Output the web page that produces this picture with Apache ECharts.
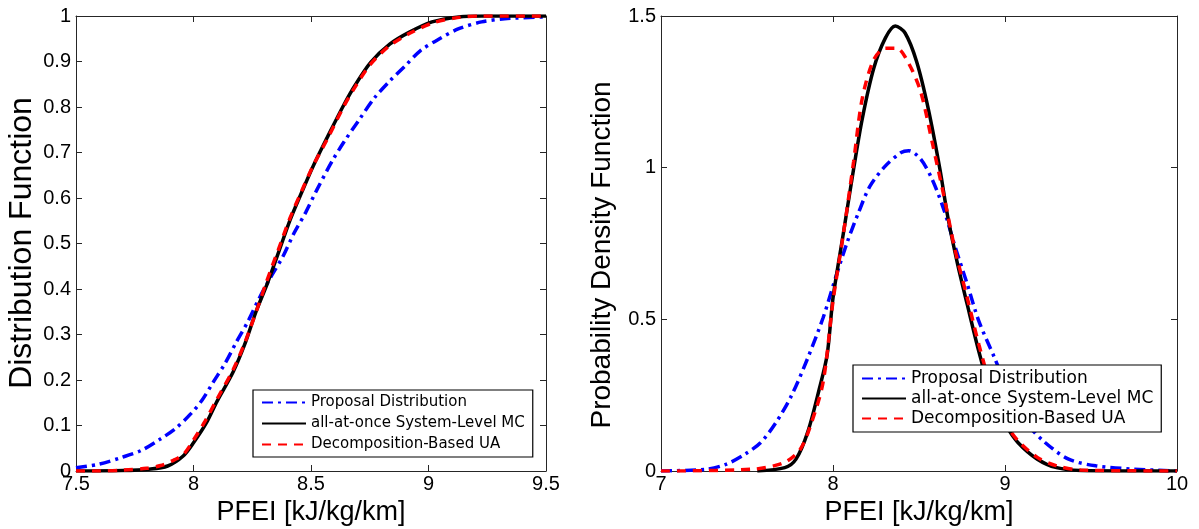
<!DOCTYPE html>
<html>
<head>
<meta charset="utf-8">
<script src="https://cdn.jsdelivr.net/npm/echarts@6/dist/echarts.min.js"></script>
<style>html,body{margin:0;padding:0;background:#fff;}#c{width:1199px;height:529px;}</style>
</head>
<body>
<div id="c"></div>
<script>
// ---- Left panel: cumulative distribution functions ----
const cdfPropX = [7.5, 7.598, 7.695, 7.777, 7.858, 7.923, 7.989, 8.037, 8.086, 8.135, 8.184, 8.233, 8.282, 8.33, 8.38, 8.428, 8.477, 8.526, 8.591, 8.64, 8.705, 8.77, 8.835, 8.9, 8.966, 9.047, 9.129, 9.226, 9.324, 9.5];
const cdfPropY = [0.007, 0.015, 0.03, 0.045, 0.07, 0.093, 0.126, 0.156, 0.197, 0.237, 0.285, 0.33, 0.382, 0.427, 0.471, 0.523, 0.568, 0.619, 0.682, 0.723, 0.772, 0.82, 0.857, 0.89, 0.924, 0.95, 0.972, 0.987, 0.994, 0.998];
const cdfMcX = [7.5, 7.7, 7.81, 7.89, 7.956, 8.0, 8.054, 8.10, 8.168, 8.217, 8.266, 8.314, 8.363, 8.412, 8.46, 8.51, 8.567, 8.64, 8.689, 8.754, 8.835, 8.917, 9.015, 9.129, 9.226, 9.5];
const cdfMcY = [0, 0.001, 0.004, 0.011, 0.033, 0.062, 0.105, 0.153, 0.217, 0.277, 0.35, 0.412, 0.482, 0.553, 0.612, 0.671, 0.731, 0.805, 0.849, 0.898, 0.938, 0.964, 0.987, 0.998, 1.0, 1.0];
const cdfUaX = [7.5, 7.6, 7.7, 7.8, 7.86, 7.92, 7.96, 8.0, 8.05, 8.1, 8.17, 8.22, 8.27, 8.31, 8.36, 8.41, 8.46, 8.51, 8.57, 8.64, 8.69, 8.75, 8.83, 8.92, 9.02, 9.13, 9.23, 9.5];
const cdfUaY = [0, 0, 0.002, 0.006, 0.012, 0.025, 0.038, 0.068, 0.11, 0.158, 0.224, 0.284, 0.355, 0.415, 0.485, 0.555, 0.615, 0.672, 0.73, 0.802, 0.846, 0.892, 0.933, 0.962, 0.985, 0.997, 1.0, 1.0];

// ---- Right panel: probability density functions ----
const pdfPropX = [7, 7.265, 7.378, 7.49, 7.58, 7.67, 7.76, 7.853, 7.943, 8.01, 8.08, 8.147, 8.215, 8.305, 8.396, 8.44, 8.51, 8.577, 8.645, 8.71, 8.78, 8.848, 8.94, 9.03, 9.12, 9.233, 9.37, 9.527, 9.75, 10];
const pdfPropY = [0, 0.006, 0.022, 0.056, 0.094, 0.161, 0.25, 0.372, 0.506, 0.628, 0.75, 0.85, 0.939, 1.006, 1.05, 1.056, 1.028, 0.961, 0.861, 0.739, 0.617, 0.494, 0.372, 0.25, 0.161, 0.094, 0.039, 0.017, 0.006, 0];
const pdfMcX = [7.56, 7.72, 7.785, 7.853, 7.921, 7.966, 8.0, 8.057, 8.113, 8.17, 8.237, 8.305, 8.362, 8.419, 8.486, 8.554, 8.622, 8.667, 8.724, 8.78, 8.848, 8.916, 9.007, 9.075, 9.188, 9.3, 9.437, 10];
const pdfMcY = [0, 0.011, 0.039, 0.128, 0.272, 0.383, 0.57, 0.772, 0.972, 1.161, 1.328, 1.428, 1.467, 1.444, 1.35, 1.194, 0.994, 0.839, 0.683, 0.55, 0.394, 0.261, 0.15, 0.094, 0.039, 0.011, 0.002, 0];
const pdfUaX = [7, 7.536, 7.717, 7.81, 7.876, 7.943, 8.0, 8.06, 8.12, 8.17, 8.237, 8.305, 8.37, 8.44, 8.51, 8.577, 8.645, 8.71, 8.78, 8.848, 8.916, 9.0, 9.075, 9.19, 9.3, 9.44, 10];
const pdfUaY = [0, 0.006, 0.028, 0.072, 0.161, 0.294, 0.56, 0.78, 1.02, 1.228, 1.356, 1.394, 1.394, 1.344, 1.25, 1.083, 0.906, 0.728, 0.572, 0.417, 0.283, 0.161, 0.1, 0.044, 0.017, 0.003, 0];

const names = ['Proposal Distribution', 'all-at-once System-Level MC', 'Decomposition-Based UA'];
const leftXTicks = [7.5, 9.5, 0.5];
const leftYTicks = [0, 1, 0.1];
const rightXTicks = [7, 10, 1];
const rightYTicks = [0, 1.5, 0.5];
const xTitle = 'PFEI [kJ/kg/km]';
const leftYTitle = 'Distribution Function';
const rightYTitle = 'Probability Density Function';

const zip = (xs, ys) => xs.map((x, i) => [x, ys[i]]);
const AX = '#262626';
const tickFont = { fontFamily: 'Liberation Sans', fontSize: 20, color: '#000' };

function xAx(gi, rng, pos, withLabels, name) {
  return {
    type: 'value', gridIndex: gi, min: rng[0], max: rng[1], interval: rng[2], position: pos,
    axisLine: { show: true, onZero: false, lineStyle: { color: AX, width: 1 } },
    axisTick: { show: true, inside: true, length: 6, lineStyle: { color: AX } },
    axisLabel: Object.assign({ show: withLabels, margin: 3 }, tickFont),
    splitLine: { show: false },
    name: name || '', nameLocation: 'middle', nameGap: 28,
    nameTextStyle: { fontFamily: 'Liberation Sans', fontSize: 27, color: '#000' }
  };
}
function yAx(gi, rng, pos, withLabels) {
  return {
    type: 'value', gridIndex: gi, min: rng[0], max: rng[1], interval: rng[2], position: pos,
    axisLine: { show: true, onZero: false, lineStyle: { color: AX, width: 1 } },
    axisTick: { show: true, inside: true, length: 6, lineStyle: { color: AX } },
    axisLabel: Object.assign({ show: withLabels, margin: 5 }, tickFont),
    splitLine: { show: false }
  };
}

const styles = [
  { color: '#0000ff', width: 3.5, type: [11, 5, 3, 5] },
  { color: '#000000', width: 3.5, type: 'solid' },
  { color: '#ff0000', width: 3.5, type: [9, 7] }
];

function mk(name, i, data, xi, yi) {
  return {
    type: 'line', name: name, data: data, xAxisIndex: xi, yAxisIndex: yi,
    showSymbol: false, symbol: 'none', smooth: 0.3,
    lineStyle: styles[i], itemStyle: { color: styles[i].color }, z: i === 2 ? 5 : (i === 1 ? 4 : 3),
    animation: false
  };
}

function legendAt(left, top, fontSize, itemGap) {
  return {
    left: left, top: top,
    orient: 'vertical', itemWidth: 44, itemHeight: 14, itemGap: itemGap,
    backgroundColor: '#fff', borderColor: '#000', borderWidth: 1.2,
    padding: [5, 8, 5, 8],
    itemStyle: { opacity: 0 },
    textStyle: { fontFamily: 'DejaVu Sans', fontSize: fontSize, color: '#000' },
    data: names, selectedMode: false, z: 10
  };
}

const chart = echarts.init(document.getElementById('c'), null, { renderer: 'canvas' });
chart.setOption({
  backgroundColor: '#fff',
  animation: false,
  grid: [
    { left: 76, right: 653, top: 16, bottom: 58, show: false, outerBoundsMode: 'none', containLabel: false },
    { left: 661, right: 22, top: 16, bottom: 58, show: false, outerBoundsMode: 'none', containLabel: false }
  ],
  xAxis: [
    xAx(0, leftXTicks, 'bottom', true, xTitle),
    xAx(0, leftXTicks, 'top', false),
    xAx(1, rightXTicks, 'bottom', true, xTitle),
    xAx(1, rightXTicks, 'top', false)
  ],
  yAxis: [
    yAx(0, leftYTicks, 'left', true),
    yAx(0, leftYTicks, 'right', false),
    yAx(1, rightYTicks, 'left', true),
    yAx(1, rightYTicks, 'right', false)
  ],
  graphic: [
    { type: 'text', x: 22, y: 243, rotation: Math.PI / 2,
      style: { text: leftYTitle, fontFamily: 'Liberation Sans', fontSize: 32, fill: '#000', align: 'center', verticalAlign: 'middle' } },
    { type: 'text', x: 602, y: 255, rotation: Math.PI / 2,
      style: { text: rightYTitle, fontFamily: 'Liberation Sans', fontSize: 28, fill: '#000', align: 'center', verticalAlign: 'middle' } }
  ],
  legend: [
    legendAt(253, 390, 15, 6),
    legendAt(853, 365, 17, 3)
  ],
  series: [
    mk(names[0], 0, zip(cdfPropX, cdfPropY), 0, 0),
    mk(names[1], 1, zip(cdfMcX, cdfMcY), 0, 0),
    mk(names[2], 2, zip(cdfUaX, cdfUaY), 0, 0),
    mk(names[0], 0, zip(pdfPropX, pdfPropY), 2, 2),
    mk(names[1], 1, zip(pdfMcX, pdfMcY), 2, 2),
    mk(names[2], 2, zip(pdfUaX, pdfUaY), 2, 2)
  ]
});
</script>
</body>
</html>
